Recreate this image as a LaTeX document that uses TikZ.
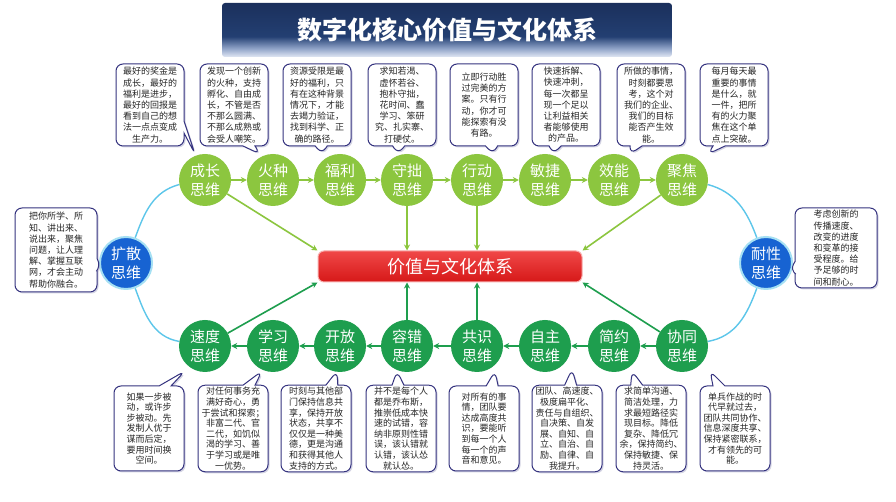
\documentclass[tikz,border=0pt]{standalone}
\usepackage{fontspec}
\setmainfont{Noto Sans CJK SC}
\usetikzlibrary{shapes.callouts,shadows,calc,arrows.meta}

\definecolor{lgreen}{HTML}{8CC63F}
\definecolor{dgreen}{HTML}{1E9E4E}
\definecolor{bblue}{HTML}{1763D2}
\definecolor{cyanl}{HTML}{5CC6EA}
\definecolor{cborder}{HTML}{35337F}
\definecolor{ttlDark}{HTML}{1B305C}
\definecolor{ttlDarkB}{HTML}{233F72}
\definecolor{ttlMid}{HTML}{8FA3C8}
\definecolor{ttlLight}{HTML}{E2E8F4}
\definecolor{redA}{HTML}{F04848}
\definecolor{redB}{HTML}{D61818}

\pgfdeclareverticalshading{titleshade}{100bp}{color(0bp)=(ttlLight); color(25bp)=(ttlLight); color(33bp)=(ttlMid); color(44bp)=(ttlDarkB); color(75bp)=(ttlDark); color(100bp)=(ttlDark)}

\tikzset{
  cthink/.style={circle, minimum size=52pt, inner sep=0pt, text=white,
    font=\fontsize{15}{19}\selectfont, align=center},
  topc/.style={cthink, fill=lgreen},
  botc/.style={cthink, fill=dgreen},
  bluec/.style={cthink, fill=bblue, draw=cyanl!55, line width=2pt},
  note/.style={rectangle callout, draw=cborder, line width=1pt, fill=white,
    rounded corners=7pt, callout pointer width=12pt, align=center, inner sep=2pt,
    font=\fontsize{9}{11.2}\selectfont, text=black!85,
    drop shadow={shadow xshift=1.5pt, shadow yshift=-1.5pt, opacity=0.35, fill=cborder!60}},
  topnote/.style={note, minimum width=68pt, minimum height=82pt},
  botnote/.style={note, minimum width=70pt, minimum height=85pt,
    font=\fontsize{9}{10.6}\selectfont},
  sidenote/.style={note, minimum width=82pt, minimum height=82pt},
  tarr/.style={draw=lgreen, line width=1.6pt, -{Stealth[length=6pt,width=6pt]}},
  barr/.style={draw=dgreen, line width=1.6pt, -{Stealth[length=6pt,width=6pt]}},
  ring/.style={draw=cyanl, line width=1.4pt},
}

\begin{document}
\begin{tikzpicture}[x=1pt,y=1pt]
\useasboundingbox (0,0) rectangle (896,502);
\fill[white] (0,0) rectangle (896,502);

% title
\node[shading=titleshade, rounded corners=3pt, minimum width=450pt, minimum height=54pt,
  inner sep=0pt, text=white, font=\bfseries\fontsize{25}{30}\selectfont] (title) at (447,472)
  {数字化核心价值与文化体系};

% centre
\node[draw=redA!45, line width=1pt, rounded corners=6pt, top color=redA, bottom color=redB,
  minimum width=264pt, minimum height=31pt, inner sep=0pt, text=white,
  font=\fontsize{18}{20}\selectfont] (ctr) at (450,235.5) {价值与文化体系};

% top circles
\node[topc] (t1) at (205,322) {成长\\思维};
\node[topc] (t2) at (273,322) {火种\\思维};
\node[topc] (t3) at (340,322) {福利\\思维};
\node[topc] (t4) at (407,322) {守拙\\思维};
\node[topc] (t5) at (477,322) {行动\\思维};
\node[topc] (t6) at (545,322) {敏捷\\思维};
\node[topc] (t7) at (614,322) {效能\\思维};
\node[topc] (t8) at (682,322) {聚焦\\思维};

% bottom circles
\node[botc] (b1) at (205,156) {速度\\思维};
\node[botc] (b2) at (273,156) {学习\\思维};
\node[botc] (b3) at (340,156) {开放\\思维};
\node[botc] (b4) at (407,156) {容错\\思维};
\node[botc] (b5) at (477,156) {共识\\思维};
\node[botc] (b6) at (545,156) {自主\\思维};
\node[botc] (b7) at (614,156) {简约\\思维};
\node[botc] (b8) at (682,156) {协同\\思维};

% side circles
\node[bluec] (kuo) at (126,239) {扩散\\思维};
\node[bluec] (nai) at (766,239) {耐性\\思维};

% rings
\draw[ring] (t1.190) to[out=195,in=70] (kuo.70);
\draw[ring] (kuo.-70) to[out=-70,in=170] (b1.170);
\draw[ring] (t8.-10) to[out=-15,in=110] (nai.110);
\draw[ring] (nai.-110) to[out=-110,in=10] (b8.10);

% chain arrows
\draw[tarr] (t1) -- (t2);
\draw[tarr] (t2) -- (t3);
\draw[tarr] (t3) -- (t4);
\draw[tarr] (t4) -- (t5);
\draw[tarr] (t5) -- (t6);
\draw[tarr] (t6) -- (t7);
\draw[tarr] (t7) -- (t8);
\draw[barr] (b8) -- (b7);
\draw[barr] (b7) -- (b6);
\draw[barr] (b6) -- (b5);
\draw[barr] (b5) -- (b4);
\draw[barr] (b4) -- (b3);
\draw[barr] (b3) -- (b2);
\draw[barr] (b2) -- (b1);

% arrows into centre
\draw[tarr] (t1) -- (ctr.north west);
\draw[tarr] (t4) -- (t4 |- ctr.north);
\draw[tarr] (t5) -- (t5 |- ctr.north);
\draw[tarr] (t8) -- (ctr.north east);
\draw[barr] (b1) -- (ctr.south west);
\draw[barr] (b4) -- (b4 |- ctr.south);
\draw[barr] (b5) -- (b5 |- ctr.south);
\draw[barr] (b8) -- (ctr.south east);

% top callouts
\node[topnote, callout absolute pointer={(195,348)}] (n1) at (150,397)
  {最好的奖金是\\成长，最好的\\福利是进步，\\最好的回报是\\看到自己的想\\法一点点变成\\生产力。};
\node[topnote, callout absolute pointer={(260,348)}] (n2) at (234,397)
  {发现一个创新\\的火种，支持\\孵化、自由成\\长，不管是否\\不那么圆满、\\不那么成熟或\\会受人嘲笑。};
\node[topnote, callout absolute pointer={(322,348)}] (n3) at (317,397)
  {资源受限是最\\好的福利，只\\有在这种背景\\情况下，才能\\去竭力验证，\\找到科学、正\\确的路径。};
\node[topnote, callout absolute pointer={(398,348)}] (n4) at (402,397)
  {求知若渴、\\虚怀若谷、\\抱朴守拙，\\花时间、蠢\\学习、笨研\\究、扎实寨、\\打硬仗。};
\node[topnote, callout absolute pointer={(493,348)}] (n5) at (484,397)
  {立即行动胜\\过完美的方\\案。只有行\\动，你才可\\能探索有没\\有路。};
\node[topnote, callout absolute pointer={(553,348)}] (n6) at (566,397)
  {快速拆解、\\快速冲刺，\\每一次都呈\\现一个足以\\让利益相关\\者能够使用\\的产品。};
\node[topnote, callout absolute pointer={(630,348)}] (n7) at (651,397)
  {所做的事情，\\时刻都要思\\考，这个对\\我们的企业、\\我们的目标\\能否产生效\\能。};
\node[topnote, callout absolute pointer={(708,348)}] (n8) at (734,397)
  {每月每天最\\重要的事情\\是什么，就\\一件，把所\\有的火力聚\\焦在这个单\\点上突破。};

% bottom callouts
\node[botnote, callout absolute pointer={(185,131)}] (m1) at (149,73.5)
  {如果一步被\\动，或许步\\步被动。先\\发制人优于\\谋而后定，\\要用时间换\\空间。};
\node[botnote, callout absolute pointer={(262,131)}] (m2) at (233,73.5)
  {对任何事务充\\满好奇心，勇\\于尝试和探索；\\非富二代、官\\二代，如饥似\\渴的学习、善\\于学习或是唯\\一优势。};
\node[botnote, callout absolute pointer={(337,131)}] (m3) at (316,73.5)
  {时刻与其他部\\门保持信息共\\享，保持开放\\状态，共享不\\仅仅是一种美\\德，更是沟通\\和获得其他人\\支持的方式。};
\node[botnote, callout absolute pointer={(397,131)}] (m4) at (401,73.5)
  {并不是每个人\\都是乔布斯，\\推崇低成本快\\速的试错，容\\纳非原则性错\\误，该认错就\\认错，该认怂\\就认怂。};
\node[botnote, callout absolute pointer={(495,131)}] (m5) at (484,73.5)
  {对所有的事\\情，团队要\\达成高度共\\识，要能听\\到每一个人\\每一个的声\\音和意见。};
\node[botnote, callout absolute pointer={(572,133)}] (m6) at (567,73.5)
  {团队、高速度、\\极度扁平化、\\责任与自组织、\\自决策、自发\\展、自知、自\\立、自治、自\\励、自律、自\\我提升。};
\node[botnote, callout absolute pointer={(632,131)}] (m7) at (651,73.5)
  {求简单沟通、\\简洁处理，力\\求最短路径实\\现目标。降低\\复杂、降低冗\\余，保持简约、\\保持敏捷、保\\持灵活。};
\node[botnote, callout absolute pointer={(710,131)}] (m8) at (735,73.5)
  {单兵作战的时\\代早就过去，\\团队共同协作、\\信息深度共享、\\保持紧密联系，\\才有领先的可\\能。};

% side callouts
\node[sidenote, minimum height=84pt, callout absolute pointer={(101,236)}] (sl) at (56,252)
  {把你所学、所\\知、讲出来、\\说出来，聚焦\\问题，让人理\\解、掌握互联\\网，才会主动\\帮助你融合。};
\node[sidenote, minimum height=80pt, callout absolute pointer={(790,232)}] (sr) at (836,254)
  {考虑创新的\\传播速度、\\改变的进度\\和变革的接\\受程度。给\\予足够的时\\间和耐心。};
\end{tikzpicture}
\end{document}
